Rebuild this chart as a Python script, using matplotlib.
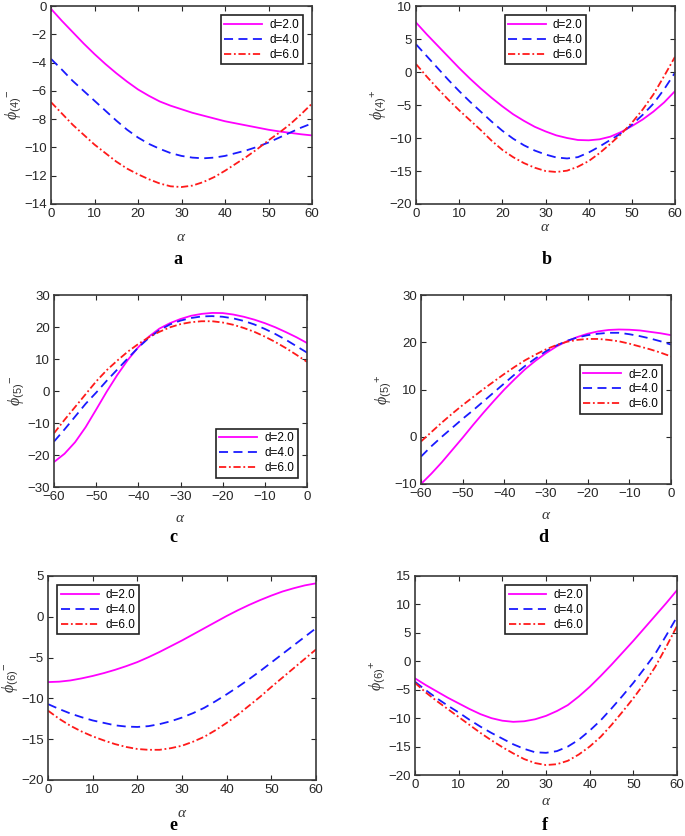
import matplotlib

matplotlib.use("Agg")
import matplotlib.pyplot as plt

plt.rcParams["font.family"] = ["Liberation Sans", "DejaVu Sans"]
plt.rcParams["mathtext.fontset"] = "custom"
plt.rcParams["mathtext.rm"] = "Liberation Sans"
plt.rcParams["mathtext.it"] = "Liberation Serif:italic"
plt.rcParams["mathtext.fallback"] = "stix"

FIG_W, FIG_H = 685, 836

# alpha grids (step 2.5)
ALPHA_POS = [0, 2.5, 5, 7.5, 10, 12.5, 15, 17.5, 20, 22.5, 25, 27.5, 30,
             32.5, 35, 37.5, 40, 42.5, 45, 47.5, 50, 52.5, 55, 57.5, 60]
ALPHA_NEG = [-60, -57.5, -55, -52.5, -50, -47.5, -45, -42.5, -40, -37.5, -35, -32.5, -30,
             -27.5, -25, -22.5, -20, -17.5, -15, -12.5, -10, -7.5, -5, -2.5, 0]
LABELS = ["d=2.0", "d=4.0", "d=6.0"]

# (a) phi_(4)^-
A_D2 = [-0.2, -1.05, -1.85, -2.65, -3.4, -4.1, -4.75, -5.35, -5.9, -6.35, -6.75, -7.05, -7.3,
        -7.55, -7.75, -7.95, -8.15, -8.3, -8.45, -8.6, -8.75, -8.87, -8.97, -9.07, -9.15]
A_D4 = [-3.74, -4.5, -5.3, -6.0, -6.7, -7.4, -8.1, -8.75, -9.3, -9.75, -10.1, -10.4, -10.6,
        -10.72, -10.77, -10.72, -10.6, -10.4, -10.2, -9.95, -9.65, -9.3, -8.95, -8.6, -8.3]
A_D6 = [-6.8, -7.6, -8.4, -9.1, -9.8, -10.4, -11.0, -11.5, -11.9, -12.25, -12.55, -12.75, -12.8,
        -12.7, -12.45, -12.1, -11.65, -11.15, -10.65, -10.1, -9.5, -8.95, -8.35, -7.65, -6.9]

# (b) phi_(4)^+
B_D2 = [7.5, 5.7, 4.0, 2.3, 0.6, -1.0, -2.5, -3.9, -5.2, -6.4, -7.4, -8.3, -9.0,
        -9.6, -10.0, -10.3, -10.35, -10.2, -9.8, -9.1, -8.2, -7.2, -6.0, -4.6, -2.9]
B_D4 = [4.2, 2.4, 0.6, -1.2, -2.9, -4.5, -6.0, -7.5, -8.9, -10.1, -11.1, -11.9, -12.5,
        -12.95, -13.1, -12.9, -12.2, -11.3, -10.3, -9.3, -8.0, -6.5, -4.8, -2.6, -0.1]
B_D6 = [1.2, -0.7, -2.5, -4.2, -5.8, -7.3, -8.8, -10.4, -11.8, -12.9, -13.8, -14.5, -15.0,
        -15.15, -14.95, -14.35, -13.5, -12.3, -10.9, -9.4, -7.7, -5.7, -3.4, -0.6, 2.3]

# (c) phi_(5)^-
C_D2 = [-22.2, -19.6, -16.0, -11.3, -5.8, -0.2, 5.0, 9.7, 13.7, 17.0, 19.5, 21.2, 22.5,
        23.5, 24.1, 24.4, 24.35, 23.9, 23.2, 22.3, 21.2, 19.9, 18.4, 16.8, 15.0]
C_D4 = [-15.8, -12.0, -8.0, -4.0, -0.5, 3.2, 6.7, 10.2, 13.6, 16.6, 19.0, 20.8, 22.0,
        22.8, 23.3, 23.4, 23.2, 22.7, 21.9, 20.8, 19.4, 17.8, 16.0, 14.0, 12.0]
C_D6 = [-13.2, -9.0, -5.0, -1.0, 3.0, 6.5, 9.5, 12.3, 14.7, 16.8, 18.5, 19.9, 20.9,
        21.5, 21.8, 21.8, 21.4, 20.7, 19.7, 18.5, 17.0, 15.3, 13.4, 11.3, 9.1]

# (d) phi_(5)^+
D_D2 = [-10.0, -7.8, -5.4, -2.8, -0.2, 2.5, 5.1, 7.6, 10.0, 12.2, 14.3, 16.1, 17.7,
        19.1, 20.2, 21.1, 21.8, 22.3, 22.6, 22.7, 22.65, 22.5, 22.2, 21.9, 21.5]
D_D4 = [-4.2, -2.0, 0.0, 1.9, 3.8, 5.6, 7.5, 9.4, 11.3, 13.2, 15.0, 16.6, 18.1,
        19.3, 20.3, 21.0, 21.5, 21.8, 22.0, 22.0, 21.7, 21.3, 20.8, 20.2, 19.5]
D_D6 = [-1.0, 1.0, 3.0, 4.9, 6.7, 8.4, 10.1, 11.7, 13.3, 14.8, 16.2, 17.4, 18.5,
        19.4, 20.1, 20.5, 20.7, 20.7, 20.5, 20.2, 19.7, 19.1, 18.5, 17.8, 17.0]

# (e) phi_(6)^-
E_D2 = [-8.0, -7.95, -7.8, -7.55, -7.25, -6.9, -6.5, -6.05, -5.55, -4.95, -4.3, -3.6, -2.9,
        -2.15, -1.4, -0.65, 0.1, 0.8, 1.45, 2.05, 2.6, 3.1, 3.5, 3.85, 4.1]
E_D4 = [-10.7, -11.3, -11.85, -12.3, -12.7, -13.0, -13.3, -13.45, -13.5, -13.4, -13.15, -12.8, -12.35,
        -11.8, -11.15, -10.35, -9.5, -8.6, -7.65, -6.65, -5.6, -4.55, -3.5, -2.45, -1.4]
E_D6 = [-11.5, -12.5, -13.35, -14.05, -14.65, -15.15, -15.6, -15.95, -16.2, -16.3, -16.3, -16.1, -15.8,
        -15.3, -14.7, -13.9, -13.0, -12.0, -10.9, -9.8, -8.6, -7.45, -6.3, -5.15, -4.0]

# (f) phi_(6)^+
F_D2 = [-3.0, -4.2, -5.3, -6.4, -7.4, -8.4, -9.3, -10.0, -10.45, -10.65, -10.55, -10.2, -9.6,
        -8.75, -7.7, -6.2, -4.5, -2.6, -0.6, 1.5, 3.6, 5.8, 8.0, 10.2, 12.5]
F_D4 = [-3.6, -5.1, -6.5, -7.8, -9.0, -10.3, -11.5, -12.6, -13.6, -14.6, -15.4, -16.0, -16.1,
        -15.8, -15.0, -13.8, -12.2, -10.4, -8.3, -6.1, -3.8, -1.3, 1.3, 4.5, 7.8]
F_D6 = [-3.8, -5.5, -7.0, -8.4, -9.8, -11.2, -12.6, -13.9, -15.1, -16.2, -17.2, -17.9, -18.25,
        -18.1, -17.5, -16.4, -15.0, -13.3, -11.2, -8.9, -6.5, -3.9, -1.0, 2.5, 6.2]

STYLES = [
    dict(color="#ff00ff", linestyle="-", linewidth=1.3),
    dict(color="#1a1aff", linestyle=(0, (5, 3)), linewidth=1.3),
    dict(color="#ff1a1a", linestyle=(0, (4, 1.5, 1, 1.5)), linewidth=1.3),
]

# panel: letter, x data, series, ylabel, y limits, y ticks, x ticks, legend loc,
# axes box in pixels (left, right, top, bottom), alpha label y, letter pos
PANELS = [
    ("a", ALPHA_POS, [A_D2, A_D4, A_D6], r"$\phi_{(4)}{}^{-}$", (-14, 0), range(-14, 1, 2),
     range(0, 61, 10), "upper right", (51, 312, 6, 204), 237, (178, 260)),
    ("b", ALPHA_POS, [B_D2, B_D4, B_D6], r"$\phi_{(4)}{}^{+}$", (-20, 10), range(-20, 11, 5),
     range(0, 61, 10), "upper center", (416, 675, 6, 204), 227, (547, 260)),
    ("c", ALPHA_NEG, [C_D2, C_D4, C_D6], r"$\phi_{(5)}{}^{-}$", (-30, 30), range(-30, 31, 10),
     range(-60, 1, 10), "lower right", (54, 307, 295, 487), 518, (173, 538)),
    ("d", ALPHA_NEG, [D_D2, D_D4, D_D6], r"$\phi_{(5)}{}^{+}$", (-10, 30), range(-10, 31, 10),
     range(-60, 1, 10), "center right", (421, 671, 295, 484), 515, (543, 538)),
    ("e", ALPHA_POS, [E_D2, E_D4, E_D6], r"$\phi_{(6)}{}^{-}$", (-20, 5), range(-20, 6, 5),
     range(0, 61, 10), "upper left", (48, 316, 576, 780), 813, (173, 826)),
    ("f", ALPHA_POS, [F_D2, F_D4, F_D6], r"$\phi_{(6)}{}^{+}$", (-20, 15), range(-20, 16, 5),
     range(0, 61, 10), "upper center", (415, 677, 576, 775), 801, (545, 826)),
]


def draw_panel(fig, panel) -> None:
    letter, x, series, ylabel, ylim, yticks, xticks, loc, box, xlab_y, letter_pos = panel
    left, right, top, bottom = box
    ax = fig.add_axes([left / FIG_W, 1 - bottom / FIG_H, (right - left) / FIG_W, (bottom - top) / FIG_H])

    for y, label, style in zip(series, LABELS, STYLES):
        ax.plot(x, y, label=label, **style)

    ax.set_xlim(x[0], x[-1])
    ax.set_ylim(*ylim)
    ax.set_xticks(list(xticks))
    ax.set_yticks(list(yticks))
    ax.tick_params(direction="in", top=True, right=True, length=3.5, width=0.8,
                   labelsize=9.5, colors="#262626", pad=3)
    for sp in ax.spines.values():
        sp.set_linewidth(1.2)
        sp.set_color("#3a3a3a")

    ax.set_ylabel(ylabel, fontsize=11.5, color="#333333", labelpad=0)

    leg = ax.legend(loc=loc, fontsize=8.5, frameon=True, fancybox=False, framealpha=1,
                    edgecolor="#222222", handlelength=3.2, borderpad=0.3, labelspacing=0.25,
                    handletextpad=0.6, borderaxespad=0.8)
    leg.get_frame().set_linewidth(1.2)

    cx = (left + right) / 2 / FIG_W
    fig.text(cx, 1 - xlab_y / FIG_H, r"$\alpha$", ha="center", va="center", fontsize=11, color="#333333")
    fig.text(letter_pos[0] / FIG_W, 1 - letter_pos[1] / FIG_H, letter, ha="center", va="center",
             fontsize=13, fontweight="bold", family="Liberation Serif")


def main() -> None:
    fig = plt.figure(figsize=(FIG_W / 100, FIG_H / 100), dpi=100)
    for panel in PANELS:
        draw_panel(fig, panel)
    fig.savefig("out.png", dpi=100)
    plt.close(fig)


if __name__ == "__main__":
    main()
